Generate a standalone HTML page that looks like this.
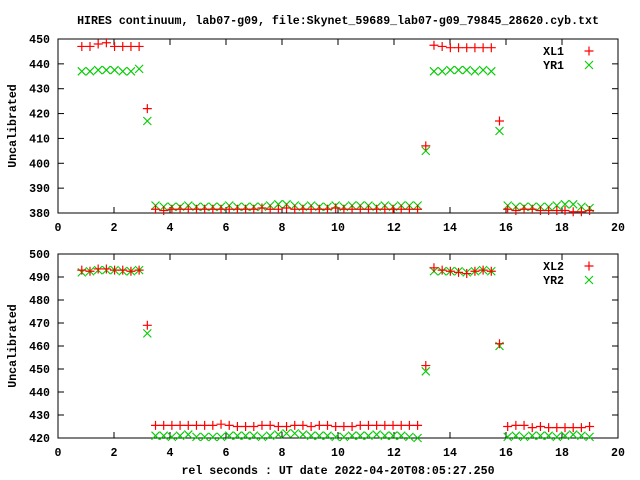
<!DOCTYPE html>
<html><head><meta charset="utf-8"><style>
body{margin:0;background:#fff}
svg{display:block}
text{font-family:"Liberation Mono",monospace;font-weight:bold;font-size:11.6px;fill:#000}
</style></head><body>
<svg id="chart" width="640" height="480" xmlns="http://www.w3.org/2000/svg">
<rect width="640" height="480" fill="#fff"/>
<text x="338" y="24" text-anchor="middle">HIRES continuum, lab07-g09, file:Skynet_59689_lab07-g09_79845_28620.cyb.txt</text>
<text x="338" y="474" text-anchor="middle">rel seconds : UT date 2022-04-20T08:05:27.250</text>
<g id="g"></g>
</svg>
<script>
const xTicks=[0,2,4,6,8,10,12,14,16,18,20];
const yTicks1=[380,390,400,410,420,430,440,450];
const yTicks2=[420,430,440,450,460,470,480,490,500];
const xStart=0.85, xStep=0.2925;
const XL1=[447,447,448,448.5,447,447,447,447,422,
381.5,381,381.5,381.5,381.5,381.5,381.5,381.5,381.5,381.5,381.5,381.5,381.5,382,381.5,381.5,382,381.5,381.5,381.5,381.5,381.5,382,381.5,381.5,381.5,381.5,381.5,381.5,381.5,381.5,381.5,381.5,
407,447.5,447,446.5,446.5,446.5,446.5,446.5,446.5,417,
381.5,381,381.5,381.5,381,381,381,381,380.5,380.5,381];
const YR1=[437,437,437.5,437.5,437.5,437,437,438,417,
383,382.5,382.5,382.5,383,382.5,382.5,382.5,382.5,383,382.5,382.5,382.5,382.5,383,383.5,383.5,383,382.5,383,382.5,382.5,383,382.5,383,383,383,382.5,383,382.5,383,383,383,
405,437,437,437.5,437.5,437.5,437,437.5,437,413,
383,382.5,382.5,382.5,382.5,382.5,383,383.5,383.5,382.5,382];
const XL2=[493,492.5,493.5,493.5,493,493,492.5,493,469,
425.5,425.5,425.5,425.5,425.5,425.5,425.5,425.5,426,425.5,425,425,425,425.5,425.5,425,425,425.5,425.5,425,425.5,425.5,425,425,425,425.5,425.5,425.5,425.5,425.5,425.5,425.5,425.5,
451.5,494,493,492.5,492,491.5,492.5,493,492.5,461,
425,425.5,425.5,424.5,425,424.5,424.5,424.5,424.5,424.5,425];
const YR2=[492,492.5,493,493,493,492.5,492.5,493,465.5,
421,421,420.5,421,421.5,420.5,420.5,420.5,420.5,421,421,421,421,420.5,421,421.5,422,422,421.5,421,421,421,420.5,420.5,421,421,421,421.5,421,421,421,420.5,420,
449,492.5,492.5,492.5,492.5,492,492.5,493,492.5,460,
420.5,421,420.5,421,421,421,420.5,421,421.5,421,420.5];
const NS="http://www.w3.org/2000/svg";
const g=document.getElementById('g');
function mk(t,a){const e=document.createElementNS(NS,t);for(const k in a)e.setAttribute(k,a[k]);return e;}
function panel(name,top,bottom,yTicks,s1,s2,l1,l2){
  const L=58,R=618,ymin=yTicks[0],ymax=yTicks[yTicks.length-1];
  const X=v=>L+(v-0)/(20-0)*(R-L);
  const Y=v=>bottom-(v-ymin)/(ymax-ymin)*(bottom-top);
  const pg=mk('g',{});
  
  
  g.appendChild(pg);
  const fr=mk('rect',{x:L,y:top,width:R-L,height:bottom-top,fill:'none',stroke:'#000','stroke-width':1});
  
  
  pg.appendChild(fr);
  xTicks.forEach(v=>{
    const x=X(v);
    pg.appendChild(mk('line',{x1:x,x2:x,y1:bottom,y2:bottom-6,stroke:'#000'}));
    pg.appendChild(mk('line',{x1:x,x2:x,y1:top,y2:top+6,stroke:'#000'}));
    const t=mk('text',{x:x,y:bottom+18,'text-anchor':'middle'});t.textContent=v;
    
    
    pg.appendChild(t);
  });
  yTicks.forEach(v=>{
    const y=Y(v);
    pg.appendChild(mk('line',{x1:L,x2:L+6,y1:y,y2:y,stroke:'#000'}));
    pg.appendChild(mk('line',{x1:R,x2:R-6,y1:y,y2:y,stroke:'#000'}));
    const t=mk('text',{x:L-8,y:y+4,'text-anchor':'end'});t.textContent=v;
    
    
    pg.appendChild(t);
  });
  const cy=(top+bottom)/2;
  const yl=mk('text',{x:16,y:cy,'text-anchor':'middle',transform:`rotate(-90 16 ${cy})`});
  yl.textContent='Uncalibrated';
  
  
  pg.appendChild(yl);
  function plus(x,y,par){par.appendChild(mk('path',{d:`M${x-4.5},${y}h9M${x},${y-4.5}v9`,stroke:'#f00','stroke-width':1.2,fill:'none'}));}
  function cross(x,y,par){par.appendChild(mk('path',{d:`M${x-4},${y-4}l8,8M${x-4},${y+4}l8,-8`,stroke:'#0c0','stroke-width':1.1,fill:'none'}));}
  const g1=mk('g',{});
  const g2=mk('g',{});
  pg.appendChild(g2);pg.appendChild(g1);
  s1.forEach((v,i)=>plus(X(xStart+i*xStep),Y(v),g1));
  s2.forEach((v,i)=>cross(X(xStart+i*xStep),Y(v),g2));
  [[l1,plus,12],[l2,cross,26]].forEach(([lab,f,dy])=>{
    const lg=mk('g',{});
    
    
    pg.appendChild(lg);
    const t=mk('text',{x:564,y:top+dy+4,'text-anchor':'end'});t.textContent=lab;lg.appendChild(t);
    f(589,top+dy,lg);
  });
}
panel('top-panel',39,213,yTicks1,XL1,YR1,'XL1','YR1');
panel('bottom-panel',254,438,yTicks2,XL2,YR2,'XL2','YR2');
</script>
</body></html>
